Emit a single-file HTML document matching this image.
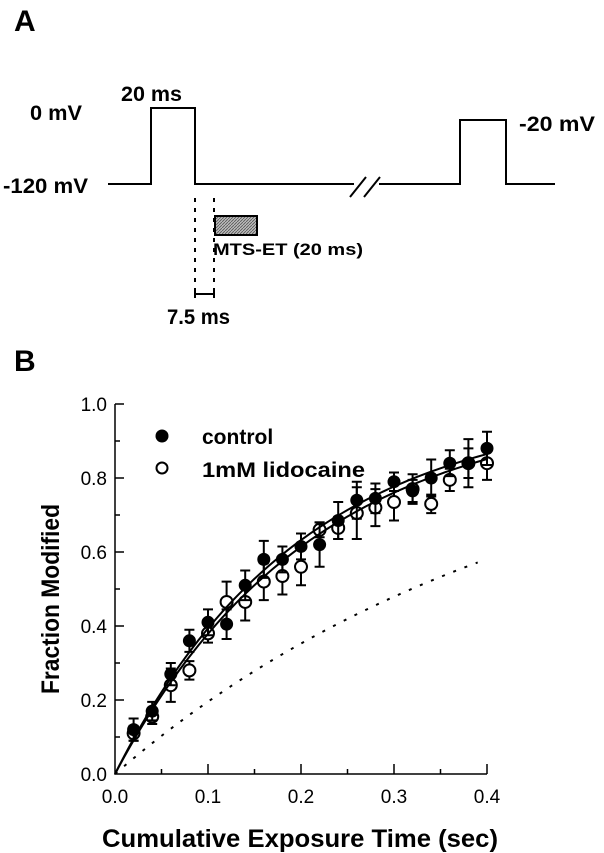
<!DOCTYPE html>
<html><head><meta charset="utf-8"><style>
html,body{margin:0;padding:0;background:#fff;width:604px;height:853px;overflow:hidden}
svg{display:block}
text{font-family:"Liberation Sans",Arial,sans-serif;fill:#000}
</style></head><body>
<svg id="s" width="604" height="853" viewBox="0 0 604 853" xmlns="http://www.w3.org/2000/svg">
<defs><pattern id="h" width="3" height="3" patternUnits="userSpaceOnUse"><rect width="3" height="3" fill="#bbb"/><path d="M0 3L3 0" stroke="#555" stroke-width="0.8"/></pattern></defs>
<text x="14" y="31" font-size="30" font-weight="bold">A</text>
<text x="121" y="101" font-size="21" font-weight="bold" textLength="61" lengthAdjust="spacingAndGlyphs">20 ms</text>
<text x="30" y="120" font-size="21" font-weight="bold" textLength="52" lengthAdjust="spacingAndGlyphs">0 mV</text>
<text x="519" y="131" font-size="21" font-weight="bold" textLength="76" lengthAdjust="spacingAndGlyphs">-20 mV</text>
<text x="3" y="193" font-size="21" font-weight="bold" textLength="85" lengthAdjust="spacingAndGlyphs">-120 mV</text>
<polyline fill="none" stroke="#000" stroke-width="2" points="108,184 151,184 151,108 195,108 195,184 354,184"/>
<polyline fill="none" stroke="#000" stroke-width="2" points="379,184 460,184 460,120 506,120 506,184 555,184"/>
<path d="M350 197L366 177M364 197L380 177" stroke="#000" stroke-width="2"/>
<path d="M195 198V295M214 198V295" stroke="#000" stroke-width="2" stroke-dasharray="4,6"/>
<rect x="215" y="216" width="42" height="19" fill="url(#h)" stroke="#000" stroke-width="2"/>
<text x="213" y="255" font-size="17" font-weight="bold" textLength="150" lengthAdjust="spacingAndGlyphs">MTS-ET (20 ms)</text>
<path d="M195 294H214M195 290V298M214 290V298" stroke="#000" stroke-width="2"/>
<text x="167" y="324" font-size="21" font-weight="bold" textLength="63" lengthAdjust="spacingAndGlyphs">7.5 ms</text>
<text x="14" y="371" font-size="30" font-weight="bold">B</text>
<g id="ax" stroke="#000" stroke-width="1.5" fill="none"></g>
<g id="dat"></g>
<text x="59" y="599" font-size="25" font-weight="bold" text-anchor="middle" transform="rotate(-90 59 599)" textLength="190" lengthAdjust="spacingAndGlyphs">Fraction Modified</text>
<text x="300" y="847" font-size="25" font-weight="bold" text-anchor="middle" textLength="396" lengthAdjust="spacingAndGlyphs">Cumulative Exposure Time (sec)</text>
<circle cx="162" cy="436" r="6.5" fill="#000"/>
<circle cx="162" cy="468" r="5.5" fill="#fff" stroke="#000" stroke-width="2"/>
<text x="202" y="444" font-size="21" font-weight="bold">control</text>
<text x="202" y="477" font-size="21" font-weight="bold" textLength="163" lengthAdjust="spacingAndGlyphs">1mM lidocaine</text>
</svg>
<script>
var NS="http://www.w3.org/2000/svg",s=document.getElementById('s');
function X(t){return 115+t*930}function Y(f){return 774-f*370}
function el(n,a,p){var e=document.createElementNS(NS,n);for(var k in a)e.setAttribute(k,a[k]);(p||s).appendChild(e);return e}
var ax=document.getElementById('ax'),d='M115 404V774H487';
for(var i=0;i<=10;i++){var y=Y(i/10);d+='M115 '+y+'H'+(i%2?120:124);}
for(var i=0;i<=8;i++){var x=X(i*0.05);d+='M'+x+' 774V'+(i%2?769:764);}
d+='M487 774V764';
el('path',{d:d},ax);
for(var i=0;i<=5;i++){var t=el('text',{x:107,y:Y(i/5)+7,'font-size':19,'text-anchor':'end'});t.textContent=(i/5).toFixed(1);}
for(var i=0;i<=4;i++){var t=el('text',{x:X(i/10),y:803,'font-size':19,'text-anchor':'middle'});t.textContent=(i/10).toFixed(1);}
function curve(tau,end,extra){var p=[];for(var t=0;t<=end+1e-9;t+=0.005)p.push(X(t)+','+Y(1-Math.exp(-t/tau)));var a={points:p.join(' '),fill:'none',stroke:'#000','stroke-width':2};for(var k in extra)a[k]=extra[k];el('polyline',a);}
curve(0.2,0.4,{});curve(0.21,0.4,{});
curve(0.46,0.39,{'stroke-dasharray':'3,9'});
var c=[[.12,.03],[.17,.025],[.27,.03],[.36,.03],[.41,.035],[.405,.04],[.51,.04],[.58,.05],[.58,.035],[.615,.035],[.62,.06],[.685,.05],[.74,.05],[.745,.04],[.79,.025],[.765,.03],[.80,.05],[.84,.035],[.84,.065],[.88,.045]];
var l=[[.11,.02],[.155,.02],[.24,.045],[.28,.025],[.38,.025],[.465,.055],[.465,.05],[.52,.05],[.535,.05],[.56,.05],[.66,.02],[.665,.03],[.705,.07],[.72,.05],[.735,.05],[.77,.04],[.73,.025],[.795,.03],[.84,.04],[.84,.045]];
var g=document.getElementById('dat');
function pts(arr,fill){arr.forEach(function(v,i){var x=X((i+1)*0.02),y=Y(v[0]),e=v[1]*370;
el('path',{d:'M'+x+' '+(y-e)+'V'+(y+e)+'M'+(x-5)+' '+(y-e)+'H'+(x+5)+'M'+(x-5)+' '+(y+e)+'H'+(x+5),stroke:'#000','stroke-width':2},g);
el('circle',{cx:x,cy:y,r:fill?6.5:6,fill:fill?'#000':'#fff',stroke:'#000','stroke-width':fill?0:2},g);});}
pts(l,false);pts(c,true);
</script>
</body></html>
